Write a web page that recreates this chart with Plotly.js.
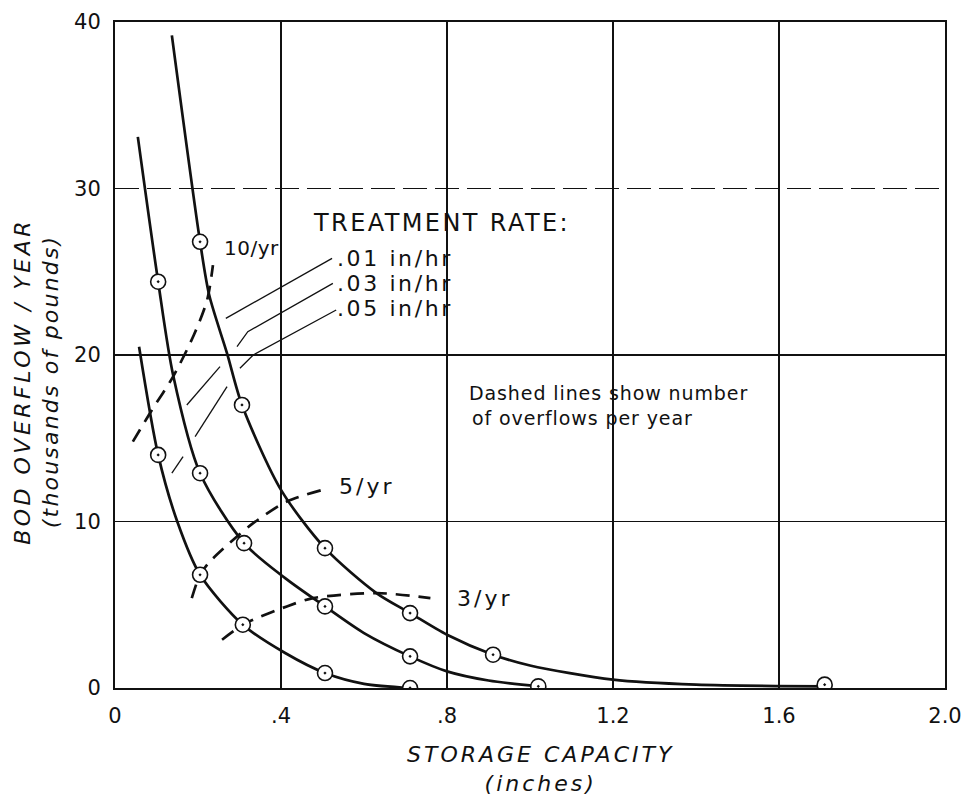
<!DOCTYPE html>
<html>
<head>
<meta charset="utf-8">
<script src="https://cdn.plot.ly/plotly-3.0.1.min.js"></script>
<style>html,body{margin:0;padding:0;background:#fff;}#chart{width:975px;height:800px;}</style>
</head>
<body>
<div id="chart"></div>
<script>
// ---- Data ----
// Solid curves: BOD overflow (thousands of lb/yr) vs storage capacity (in), one per treatment rate
const curve01_x = [0.137, 0.205, 0.227, 0.27, 0.306, 0.40, 0.506, 0.63, 0.711, 0.80, 0.911, 1.00, 1.20, 1.40, 1.71];
const curve01_y = [39.2, 26.8, 23.6, 20.1, 17.0, 11.9, 8.4, 5.7, 4.5, 3.2, 2.0, 1.35, 0.5, 0.2, 0.1];
const curve03_x = [0.055, 0.104, 0.14, 0.205, 0.311, 0.41, 0.506, 0.60, 0.711, 0.80, 0.90, 1.02];
const curve03_y = [33.1, 24.4, 18.8, 12.9, 8.7, 6.6, 4.9, 3.3, 1.9, 1.0, 0.45, 0.1];
const curve05_x = [0.058, 0.104, 0.15, 0.205, 0.308, 0.41, 0.506, 0.60, 0.711];
const curve05_y = [20.5, 14.0, 10.0, 6.8, 3.8, 2.1, 0.9, 0.25, 0.0];

// Plotted (circled) observations on each curve
const pts01_x = [0.205, 0.306, 0.506, 0.711, 0.911, 1.71];
const pts01_y = [26.8, 17.0, 8.4, 4.5, 2.0, 0.2];
const pts03_x = [0.104, 0.205, 0.311, 0.506, 0.711, 1.02];
const pts03_y = [24.4, 12.9, 8.7, 4.9, 1.9, 0.1];
const pts05_x = [0.104, 0.205, 0.308, 0.506, 0.711];
const pts05_y = [14.0, 6.8, 3.8, 0.9, 0.0];

// Dashed lines: number of overflows per year
const over10_x = [0.043, 0.089, 0.14, 0.19, 0.222, 0.236];
const over10_y = [14.8, 16.7, 18.7, 21.2, 23.3, 25.4];
const over5_x = [0.185, 0.205, 0.229, 0.294, 0.333, 0.414, 0.50];
const over5_y = [5.4, 6.8, 7.6, 9.1, 9.9, 11.2, 11.9];
const over3_x = [0.258, 0.308, 0.333, 0.414, 0.477, 0.631, 0.76];
const over3_y = [2.9, 3.8, 4.1, 4.9, 5.4, 5.7, 5.4];

// Leader lines from the treatment-rate labels to their curves
const lead01_x = [0.523, 0.267];
const lead01_y = [25.8, 22.2];
const lead03_x = [0.525, 0.320, 0.294, null, 0.253, 0.173];
const lead03_y = [24.3, 21.4, 20.5, null, 19.3, 17.0];
const lead05_x = [0.533, 0.333, 0.301, null, 0.270, 0.193, null, 0.164, 0.137];
const lead05_y = [22.7, 20.0, 19.2, null, 18.1, 15.1, null, 13.9, 12.9];

// Axis ticks
const xTickVals = [0, 0.4, 0.8, 1.2, 1.6, 2.0];
const xTickText = ['0', '.4', '.8', '1.2', '1.6', '2.0'];
const yTickVals = [0, 10, 20, 30, 40];
const yTickText = ['0', '10', '20', '30', '40'];
const ySolidGrid = [10, 20];

// Text labels
const rateTitle = 'TREATMENT RATE:';
const rateLabels = ['.01 in/hr', '.03 in/hr', '.05 in/hr'];
const overLabels = ['10/yr', '5/yr', '3/yr'];
const noteLines = ['Dashed lines show number', 'of overflows per year'];
const xTitle = ['STORAGE CAPACITY', '(inches)'];
const yTitle = ['BOD OVERFLOW / YEAR', '(thousands of pounds)'];

// ---- Build chart ----
const FONT = 'DejaVu Sans, Liberation Sans, sans-serif';
const INK = '#111';
const solid = {color: INK, width: 2.7, shape: 'spline', smoothing: 0.8};
const dashed = {color: INK, width: 2.7, dash: '14px,9px', shape: 'spline', smoothing: 0.8};
const leader = {color: INK, width: 1.3};
const circ = {symbol: 'circle-dot', size: 15, color: '#fff', line: {color: INK, width: 1.6}};

function sp(t, ls) { return '<span style="letter-spacing:' + ls + 'px">' + t + '</span>'; }

const traces = [
  {x: lead01_x, y: lead01_y, mode: 'lines', line: leader},
  {x: lead03_x, y: lead03_y, mode: 'lines', line: leader},
  {x: lead05_x, y: lead05_y, mode: 'lines', line: leader},
  {x: over10_x, y: over10_y, mode: 'lines', line: dashed},
  {x: over5_x, y: over5_y, mode: 'lines', line: dashed},
  {x: over3_x, y: over3_y, mode: 'lines', line: dashed},
  {x: curve01_x, y: curve01_y, mode: 'lines', line: solid, name: '.01 in/hr'},
  {x: curve03_x, y: curve03_y, mode: 'lines', line: solid, name: '.03 in/hr'},
  {x: curve05_x, y: curve05_y, mode: 'lines', line: solid, name: '.05 in/hr'},
  {x: pts01_x, y: pts01_y, mode: 'markers', marker: circ},
  {x: pts03_x, y: pts03_y, mode: 'markers', marker: circ},
  {x: pts05_x, y: pts05_y, mode: 'markers', marker: circ},
  {x: [null], y: [null], yaxis: 'y2', mode: 'lines', hoverinfo: 'skip'}
];

function txt(x, y, t, size, ls) {
  return {x: x, y: y, xref: 'x', yref: 'y', text: sp(t, ls), showarrow: false,
          xanchor: 'left', yanchor: 'middle', font: {family: FONT, size: size, color: INK}};
}

const annotations = [
  txt(0.472, 27.9, rateTitle, 24, 2.4),
  txt(0.53, 25.8, rateLabels[0], 22, 2.6),
  txt(0.53, 24.3, rateLabels[1], 22, 2.6),
  txt(0.53, 22.8, rateLabels[2], 22, 2.6),
  txt(0.258, 26.4, overLabels[0], 20, 0.5),
  txt(0.535, 12.1, overLabels[1], 22, 3),
  txt(0.82, 5.4, overLabels[2], 22, 3),
  txt(0.848, 17.7, noteLines[0], 19, 0.9),
  txt(0.855, 16.2, noteLines[1], 19, 0.9),
  {x: -0.095, y: 0.46, xref: 'paper', yref: 'paper', textangle: -90, showarrow: false,
   xanchor: 'center', yanchor: 'middle',
   text: '<i>' + sp(yTitle[0], 3.5) + '</i><br><i>' + sp(yTitle[1], 2.2) + '</i>',
   font: {family: FONT, size: 22, color: INK}},
  {x: 0.513, y: -0.078, xref: 'paper', yref: 'paper', showarrow: false,
   xanchor: 'center', yanchor: 'top',
   text: '<i>' + sp(xTitle[0], 3) + '</i><br><i>' + sp(xTitle[1], 3) + '</i>',
   font: {family: FONT, size: 22, color: INK}}
];

const layout = {
  width: 975, height: 800,
  paper_bgcolor: '#fff', plot_bgcolor: '#fff',
  margin: {l: 115, r: 30, t: 22, b: 112},
  showlegend: false,
  font: {family: FONT, color: INK},
  xaxis: {
    range: [0, 2], tickvals: xTickVals, ticktext: xTickText,
    showgrid: true, gridcolor: INK, gridwidth: 1.3, zeroline: false,
    showline: true, linecolor: INK, linewidth: 2, mirror: true,
    ticks: '', ticklabelstandoff: 8,
    tickfont: {family: FONT, size: 21, color: INK}
  },
  yaxis: {
    range: [0, 40], tickvals: yTickVals, ticktext: yTickText,
    showgrid: true, gridcolor: INK, gridwidth: 1.5, griddash: '24px,8px', zeroline: false,
    showline: true, linecolor: INK, linewidth: 2, mirror: true,
    ticks: '', ticklabelstandoff: 8,
    tickfont: {family: FONT, size: 21, color: INK}
  },
  yaxis2: {
    overlaying: 'y', range: [0, 40], tickvals: ySolidGrid, showticklabels: false,
    showgrid: true, gridcolor: INK, gridwidth: 1.5, zeroline: false, showline: false, ticks: ''
  },
  annotations: annotations
};

Plotly.newPlot('chart', traces, layout, {staticPlot: true, displayModeBar: false});
</script>
</body>
</html>
